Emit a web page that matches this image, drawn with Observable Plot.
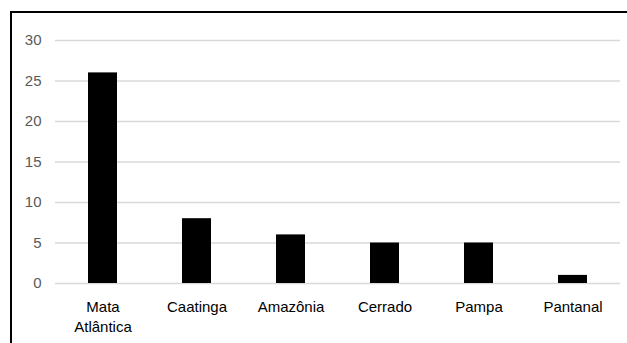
<!DOCTYPE html>
<html>
<head>
<meta charset="utf-8">
<script src="https://cdn.jsdelivr.net/npm/d3@7"></script>
<script src="https://cdn.jsdelivr.net/npm/@observablehq/plot@0.6"></script>
<style>
  html, body { margin: 0; padding: 0; background: #fff; overflow: hidden; }
  #wrap { position: relative; width: 627px; height: 343px; }
  #box {
    position: absolute; left: 10px; top: 11px; width: 700px; height: 400px;
    border: 2px solid #000; pointer-events: none;
  }
  svg { display: block; }
</style>
</head>
<body>
<div id="wrap"><div id="box"></div></div>
<script>
// Number of records per Brazilian biome
const biomes = ["Mata Atlântica", "Caatinga", "Amazônia", "Cerrado", "Pampa", "Pantanal"];
const counts = [26, 8, 6, 5, 5, 1];
const yTicks = [0, 5, 10, 15, 20, 25, 30];

const data = biomes.map((b, i) => ({biome: b, count: counts[i]}));

const chart = Plot.plot({
  width: 627,
  height: 343,
  marginTop: 40,
  marginBottom: 60,
  marginLeft: 55,
  marginRight: 7,
  style: {fontFamily: "'Liberation Sans', Arial, sans-serif", fontSize: "15px", color: "#595959", background: "transparent"},
  x: {domain: biomes, paddingInner: 0.69, paddingOuter: 0.345},
  y: {domain: [0, 30]},
  marks: [
    Plot.gridY(yTicks, {stroke: "#d9d9d9", strokeOpacity: 1, strokeWidth: 1.5}),
    Plot.axisY(yTicks, {tickSize: 0, tickPadding: 14, label: null, fill: "#595959", fontSize: 15}),
    Plot.axisX({
      tickSize: 0, tickPadding: 14, label: null, fill: "#000", fontSize: 15,
      lineHeight: 1.35,
      tickFormat: d => d === "Mata Atlântica" ? "Mata\nAtlântica" : d
    }),
    Plot.barY(data, {x: "biome", y: "count", fill: "#000"})
  ]
});
document.getElementById("wrap").prepend(chart);
</script>
</body>
</html>
